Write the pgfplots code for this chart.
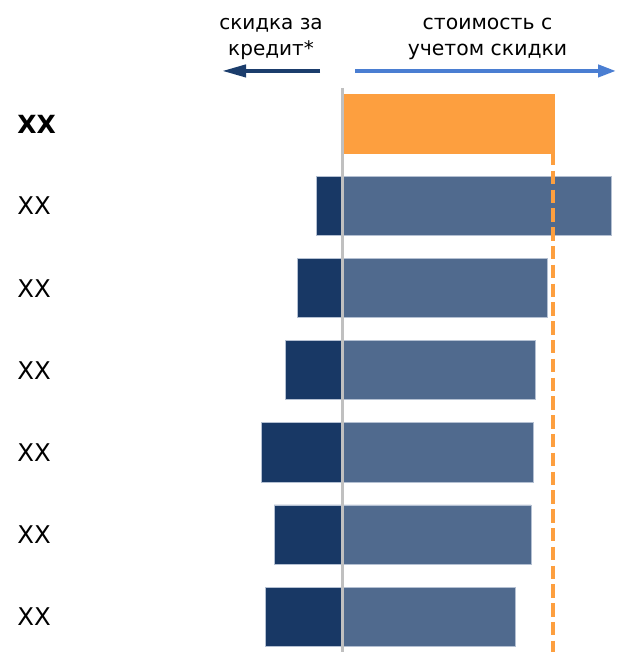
\documentclass[border=0pt]{standalone}
\usepackage{fontspec}
\setmainfont{DejaVu Sans}
\usepackage{pgfplots}
\pgfplotsset{compat=1.18}
\usetikzlibrary{arrows.meta}
\definecolor{cOrange}{HTML}{FD9F3F}
\definecolor{cDark}{HTML}{183865}
\definecolor{cLight}{HTML}{506A8E}
\definecolor{cEdge}{HTML}{B4C0D2}
\definecolor{cArrowL}{HTML}{4A7ED2}
\definecolor{cArrowD}{HTML}{1B3D6C}
\definecolor{cGrey}{HTML}{C0C0C0}
\begin{document}
\begin{tikzpicture}
\begin{axis}[
  name=ax,
  scale only axis,
  width=308pt, height=326pt,
  xmin=-342, xmax=274,
  ymin=-0.510, ymax=7.431,
  y dir=reverse,
  hide axis,
  clip=false,
  bar width=0.72, bar shift=0pt,
]
\addplot[xbar, fill=cOrange, draw=none] coordinates {(213,1)};
\addplot[xbar, fill=cDark, draw=cEdge, line width=0.4pt] coordinates {
 (-26,2) (-45,3) (-57,4) (-81,5) (-68,6) (-77,7)};
\addplot[xbar, fill=cLight, draw=cEdge, line width=0.4pt] coordinates {
 (269,2) (205,3) (193,4) (191,5) (189,6) (173,7)};
\addplot[no marks, sharp plot, draw=cGrey, line width=1.5pt] coordinates {(0,0.561) (0,7.431)};
\addplot[no marks, sharp plot, draw=cOrange, line width=2pt, dash pattern=on 6.7pt off 2.7pt] coordinates {(211.3,1.34) (211.3,7.431)};
% category labels
\node[anchor=west, inner sep=0pt, font=\fontsize{12.5}{14}\selectfont\bfseries] at (axis cs:-325,1) {XX};
\pgfplotsinvokeforeach{2,...,7}{
  \node[anchor=west, inner sep=0pt, font=\fontsize{12.2}{14}\selectfont] at (axis cs:-325,#1) {XX};
}
% headers
\node[anchor=base, inner sep=0pt, font=\fontsize{10}{12}\selectfont] at (axis cs:-71,-0.145) {скидка за};
\node[anchor=base, inner sep=0pt, font=\fontsize{10}{12}\selectfont] at (axis cs:-71,0.160) {кредит*};
\node[anchor=base, inner sep=0pt, font=\fontsize{10.2}{12}\selectfont] at (axis cs:145.5,-0.145) {стоимость с};
\node[anchor=base, inner sep=0pt, font=\fontsize{10.2}{12}\selectfont] at (axis cs:145.5,0.160) {учетом скидки};
\draw[cArrowD, line width=2pt, -{Triangle[length=12pt,width=6pt]}] (axis cs:-22,0.354) -- (axis cs:-120,0.354);
\draw[cArrowL, line width=2pt, -{Triangle[length=9pt,width=6pt]}] (axis cs:13,0.354) -- (axis cs:274,0.354);
\end{axis}
\pgfresetboundingbox
\useasboundingbox (ax.south west) rectangle (ax.north east);
\end{tikzpicture}
\end{document}
